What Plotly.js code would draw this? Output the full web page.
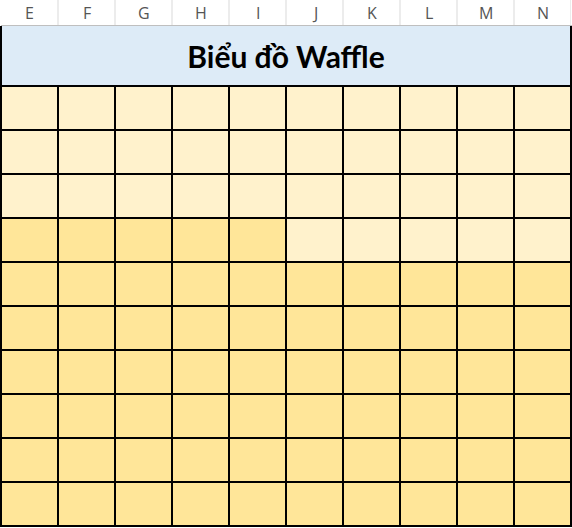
<!DOCTYPE html>
<html>
<head>
<meta charset="utf-8">
<script src="https://cdn.plot.ly/plotly-3.0.1.min.js"></script>
<style>
  html, body { margin: 0; padding: 0; background: #fff; }
  #chart { width: 572px; height: 528px; }
</style>
</head>
<body>
<div id="chart"></div>
<script>
  // spreadsheet columns used for the waffle
  var columns = ["E", "F", "G", "H", "I", "J", "K", "L", "M", "N"];
  // rows counted from the bottom of the grid
  var rows = [1, 2, 3, 4, 5, 6, 7, 8, 9, 10];
  // 1 = filled cell, 0 = empty cell (bottom row first) -> 65 of 100
  var cells = [
    [1, 1, 1, 1, 1, 1, 1, 1, 1, 1],
    [1, 1, 1, 1, 1, 1, 1, 1, 1, 1],
    [1, 1, 1, 1, 1, 1, 1, 1, 1, 1],
    [1, 1, 1, 1, 1, 1, 1, 1, 1, 1],
    [1, 1, 1, 1, 1, 1, 1, 1, 1, 1],
    [1, 1, 1, 1, 1, 1, 1, 1, 1, 1],
    [1, 1, 1, 1, 1, 0, 0, 0, 0, 0],
    [0, 0, 0, 0, 0, 0, 0, 0, 0, 0],
    [0, 0, 0, 0, 0, 0, 0, 0, 0, 0],
    [0, 0, 0, 0, 0, 0, 0, 0, 0, 0]
  ];
  var chartTitle = "Biểu đồ Waffle";

  // plot area is 440px tall starting at 86px; helper to place things above it
  var gridTop = 86, gridH = 440;
  function py(pixel) { return 1 + (gridTop - pixel) / gridH; }

  var shapes = [];
  // title band
  shapes.push({
    type: "rect", xref: "paper", yref: "paper",
    x0: 0, x1: 1, y0: py(86), y1: py(26),
    fillcolor: "#DDEBF7", line: { width: 0 }, layer: "below"
  });
  // title band side borders
  [0, 1].forEach(function (x) {
    shapes.push({
      type: "line", xref: "paper", yref: "paper",
      x0: x, x1: x, y0: py(86), y1: py(26),
      line: { color: "#000", width: 2 }
    });
  });
  // header separators
  for (var i = 0; i < columns.length; i++) {
    shapes.push({
      type: "line", xref: "x", yref: "paper",
      x0: i + 0.5, x1: i + 0.5, y0: py(25), y1: py(0),
      line: { color: "#D9D9D9", width: 1 }
    });
  }
  shapes.push({
    type: "line", xref: "paper", yref: "paper",
    x0: 0, x1: 1.01, y0: py(25.5), y1: py(25.5),
    line: { color: "#BFBFBF", width: 1 }
  });
  // outer border of the grid
  shapes.push({
    type: "rect", xref: "paper", yref: "paper",
    x0: 0, x1: 1, y0: 0, y1: 1,
    line: { color: "#000", width: 2 }
  });

  var annotations = columns.map(function (c) {
    return {
      text: c, x: c, xref: "x", y: py(13), yref: "paper",
      showarrow: false, xanchor: "center", yanchor: "middle",
      font: { family: "Open Sans", size: 16, color: "#555555" }
    };
  });

  Plotly.newPlot("chart", [{
    type: "heatmap",
    x: columns,
    y: rows,
    z: cells,
    zmin: 0,
    zmax: 1,
    colorscale: [[0, "#FFF2CC"], [1, "#FFE699"]],
    showscale: false,
    xgap: 2,
    ygap: 2,
    hoverinfo: "skip"
  }], {
    width: 572,
    height: 528,
    margin: { l: 1, r: 1, t: gridTop, b: 2 },
    paper_bgcolor: "#FFFFFF",
    plot_bgcolor: "#000000",
    title: {
      text: chartTitle,
      x: 0.5, xanchor: "center",
      y: 1 - 57 / 528, yanchor: "middle",
      font: { family: "Lato", size: 30, color: "#000", weight: "bold" }
    },
    xaxis: { type: "category", range: [-0.5, 9.5], showgrid: false, zeroline: false, showticklabels: false, ticks: "", fixedrange: true },
    yaxis: { range: [0.5, 10.5], showgrid: false, zeroline: false, showticklabels: false, ticks: "", fixedrange: true },
    shapes: shapes,
    annotations: annotations,
    showlegend: false
  }, { displayModeBar: false, staticPlot: true });
</script>
</body>
</html>
